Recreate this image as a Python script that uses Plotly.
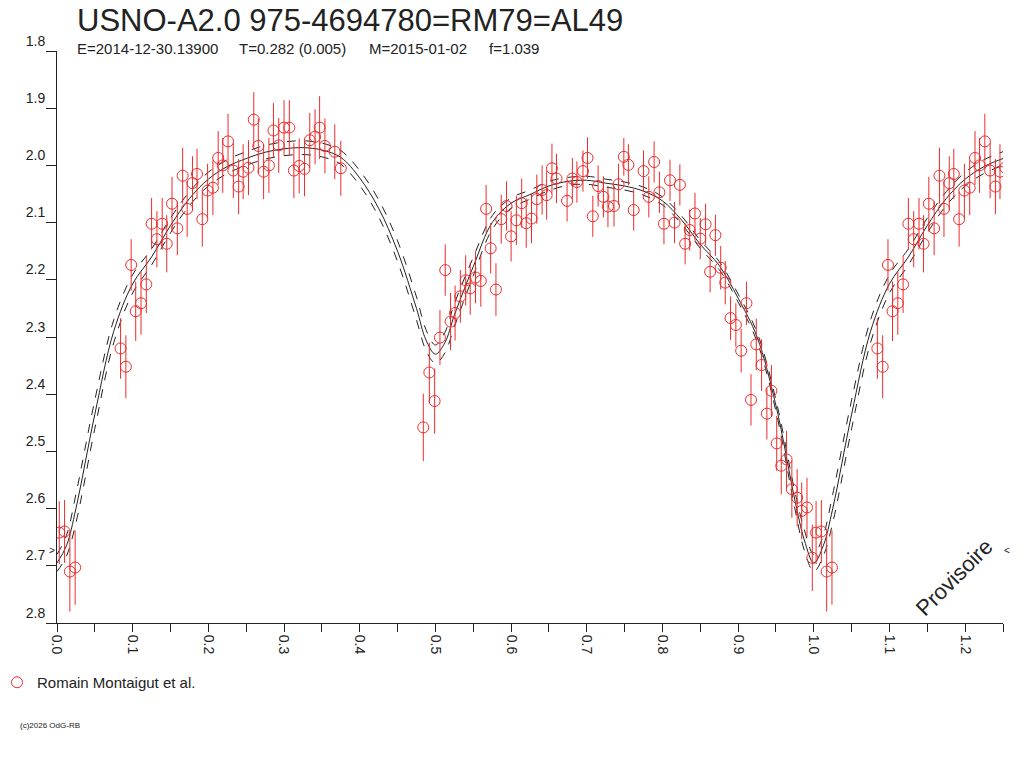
import plotly.graph_objects as go

phase = [
    0.003, 0.010, 0.017, 0.024, 0.084, 0.091, 0.098, 0.104, 0.111, 0.118,
    0.125, 0.132, 0.139, 0.145, 0.152, 0.159, 0.166, 0.172, 0.179, 0.185,
    0.192, 0.199, 0.206, 0.213, 0.219, 0.226, 0.233, 0.240, 0.246, 0.253,
    0.260, 0.266, 0.273, 0.280, 0.286, 0.293, 0.300, 0.307, 0.313, 0.320,
    0.327, 0.334, 0.341, 0.347, 0.354, 0.367, 0.375,
    0.484, 0.492, 0.499, 0.506, 0.513, 0.520, 0.526, 0.533, 0.540, 0.546,
    0.553, 0.560, 0.567, 0.573, 0.580, 0.587, 0.594, 0.600, 0.607, 0.614,
    0.620, 0.627, 0.634, 0.641, 0.647, 0.654, 0.660,
    0.674, 0.681, 0.687, 0.695, 0.701, 0.708, 0.715, 0.722, 0.728, 0.736,
    0.742, 0.749, 0.755, 0.762, 0.775, 0.782, 0.789, 0.796, 0.802, 0.810,
    0.816, 0.823, 0.830, 0.836, 0.843, 0.850, 0.857, 0.863, 0.870,
    0.877, 0.883, 0.890, 0.897, 0.904, 0.911, 0.917, 0.924, 0.931, 0.938,
    0.944, 0.951, 0.957, 0.964, 0.971, 0.978, 0.984, 0.991, 0.998,
]
mag = [
    2.642, 2.640, 2.710, 2.703, 2.320, 2.352, 2.174, 2.255, 2.241, 2.208,
    2.102, 2.129, 2.102, 2.137, 2.067, 2.110, 2.018, 2.076, 2.031, 2.015,
    2.094, 2.044, 2.039, 1.987, 2.000, 1.958, 2.009, 2.037, 2.011, 2.004,
    1.920, 1.966, 2.011, 2.000, 1.939, 1.965, 1.934, 1.934, 2.009, 2.001,
    2.006, 1.956, 1.950, 1.934, 1.966, 1.976, 2.005,
    2.458, 2.362, 2.412, 2.301, 2.183, 2.273, 2.258, 2.229, 2.201, 2.215,
    2.196, 2.202, 2.076, 2.145, 2.217, 2.094, 2.071, 2.124, 2.096, 2.066,
    2.101, 2.093, 2.059, 2.043, 2.052, 2.005, 2.023,
    2.062, 2.023, 2.029, 2.010, 1.987, 2.089, 2.036, 2.055, 2.072, 2.071,
    2.033, 1.985, 1.999, 2.078, 2.010, 2.055, 1.994, 2.047, 2.102, 2.026,
    2.100, 2.034, 2.137, 2.113, 2.084, 2.128, 2.103, 2.186, 2.122,
    2.179, 2.205, 2.267, 2.279, 2.324, 2.241, 2.410, 2.313, 2.349, 2.434,
    2.394, 2.486, 2.525, 2.514, 2.566, 2.581, 2.604, 2.598, 2.686,
]
err = [
    0.055, 0.055, 0.070, 0.065, 0.053, 0.055, 0.045, 0.052, 0.055, 0.050,
    0.045, 0.049, 0.045, 0.050, 0.047, 0.047, 0.049, 0.049, 0.047, 0.044,
    0.048, 0.047, 0.048, 0.047, 0.048, 0.048, 0.048, 0.048, 0.048, 0.048,
    0.048, 0.048, 0.048, 0.048, 0.048, 0.048, 0.048, 0.048, 0.048, 0.048,
    0.048, 0.048, 0.048, 0.055, 0.048, 0.048, 0.048,
    0.059, 0.052, 0.057, 0.048, 0.045, 0.050, 0.048, 0.046, 0.044, 0.046,
    0.045, 0.045, 0.042, 0.044, 0.046, 0.043, 0.043, 0.044, 0.043, 0.043,
    0.043, 0.043, 0.043, 0.043, 0.043, 0.043, 0.043,
    0.036, 0.036, 0.036, 0.036, 0.036, 0.036, 0.036, 0.036, 0.036, 0.036,
    0.036, 0.033, 0.036, 0.036, 0.036, 0.036, 0.036, 0.036, 0.036, 0.036,
    0.036, 0.036, 0.036, 0.036, 0.036, 0.036, 0.036, 0.036, 0.036,
    0.038, 0.038, 0.038, 0.038, 0.038, 0.038, 0.045, 0.045, 0.045, 0.045,
    0.045, 0.048, 0.050, 0.050, 0.050, 0.050, 0.050, 0.052, 0.058,
]

# fitted light curve (middle) and its envelope, read at these phases
curve_phase = [0, 0.0125, 0.025, 0.05, 0.075, 0.1, 0.125, 0.15, 0.175, 0.2,
               0.225, 0.25, 0.275, 0.3, 0.325, 0.35, 0.375, 0.4, 0.425, 0.45,
               0.475, 0.4875, 0.5, 0.5125, 0.525, 0.55, 0.575, 0.6, 0.625, 0.65,
               0.675, 0.7, 0.725, 0.75, 0.775, 0.8, 0.825, 0.85, 0.875, 0.9,
               0.925, 0.95, 0.975, 0.9875, 1.0]
curve_mid = [2.695, 2.665, 2.600, 2.435, 2.290, 2.207, 2.160, 2.105, 2.058, 2.024,
             2.002, 1.988, 1.977, 1.971, 1.969, 1.973, 1.986, 2.022, 2.075, 2.150,
             2.250, 2.305, 2.330, 2.310, 2.262, 2.177, 2.100, 2.066, 2.051, 2.036,
             2.028, 2.026, 2.031, 2.036, 2.045, 2.062, 2.095, 2.138, 2.175, 2.232,
             2.300, 2.420, 2.585, 2.655, 2.695]
curve_hi = [2.680, 2.647, 2.575, 2.410, 2.270, 2.191, 2.146, 2.092, 2.046, 2.012,
            1.990, 1.976, 1.965, 1.959, 1.957, 1.961, 1.974, 2.009, 2.060, 2.132,
            2.230, 2.287, 2.314, 2.292, 2.242, 2.161, 2.088, 2.057, 2.043, 2.028,
            2.021, 2.019, 2.024, 2.029, 2.038, 2.055, 2.088, 2.131, 2.168, 2.225,
            2.292, 2.410, 2.570, 2.637, 2.680]
curve_lo = [2.710, 2.683, 2.625, 2.460, 2.310, 2.223, 2.174, 2.118, 2.070, 2.036,
            2.014, 2.000, 1.989, 1.983, 1.981, 1.985, 1.998, 2.035, 2.090, 2.168,
            2.270, 2.323, 2.346, 2.328, 2.282, 2.193, 2.112, 2.075, 2.059, 2.044,
            2.035, 2.033, 2.038, 2.043, 2.052, 2.069, 2.102, 2.145, 2.182, 2.239,
            2.308, 2.430, 2.600, 2.673, 2.710]

title_text = "USNO-A2.0 975-4694780=RM79=AL49"
info_parts = ["E=2014-12-30.13900", "T=0.282 (0.005)", "M=2015-01-02", "f=1.039"]

# phases past 1.0 repeat the start of the cycle
wrap = [i for i, p in enumerate(phase) if p < 0.26]
x_pts = phase + [phase[i] + 1 for i in wrap]
y_pts = mag + [mag[i] for i in wrap]
e_pts = err + [err[i] for i in wrap]

cwrap = [i for i, p in enumerate(curve_phase) if 0 < p <= 0.275]
cx = curve_phase + [curve_phase[i] + 1 for i in cwrap]

RED = "#ee2b2b"
INK = "#222222"
FONT = "Liberation Sans, Arial, sans-serif"

fig = go.Figure()
for vals, dash in [(curve_hi, "dash"), (curve_lo, "dash"), (curve_mid, "solid")]:
    fig.add_trace(go.Scatter(
        x=cx, y=vals + [vals[i] for i in cwrap], mode="lines",
        line=dict(color=INK, width=1, dash=dash, shape="spline", smoothing=1),
        showlegend=False, hoverinfo="skip",
    ))

fig.add_trace(go.Scatter(
    x=x_pts, y=y_pts, mode="markers", name="Romain Montaigut et al.",
    marker=dict(symbol="circle-open", size=11, color=RED, line=dict(width=1, color=RED)),
    error_y=dict(type="data", array=e_pts, visible=True, color=RED, thickness=1, width=0),
))

# the page puts the figure 8px in from the top-left corner; plot area on screen
# runs from x=57..1003 and y=51..623
def px_x(px):
    return (px - 57) / 946

def px_y(py):
    return (623 - py) / 572

ann = [
    dict(text=title_text, x=px_x(75), y=px_y(20),
         xanchor="left", yanchor="middle", font=dict(size=31, color=INK)),
    dict(text="Provisoire", x=px_x(954), y=px_y(577), textangle=-45,
         xanchor="center", yanchor="middle", font=dict(size=22, color=INK)),
    dict(text=">", x=px_x(52), y=px_y(550), xanchor="center", yanchor="middle",
         font=dict(size=10, color=INK)),
    dict(text="<", x=px_x(1007), y=px_y(550), xanchor="center", yanchor="middle",
         font=dict(size=10, color=INK)),
    dict(text="(c)2026 OdG-RB", x=px_x(18), y=px_y(725), xanchor="left",
         yanchor="middle", font=dict(size=8, color=INK)),
]
for txt, sx in zip(info_parts, [75, 237, 367, 487]):
    ann.append(dict(text=txt, x=px_x(sx), y=px_y(48), xanchor="left",
                    yanchor="middle", font=dict(size=15, color=INK)))
for a in ann:
    a.update(xref="paper", yref="paper", showarrow=False)

fig.update_layout(
    width=1016, height=760,
    margin=dict(l=49, r=21, t=43, b=145, autoexpand=False),
    paper_bgcolor="white", plot_bgcolor="white",
    font=dict(family=FONT, color=INK, size=14),
    annotations=ann,
    showlegend=True,
    legend=dict(xref="paper", yref="container", x=px_x(-3), y=1 - 658 / 760,
                xanchor="left", yanchor="top", bgcolor="rgba(0,0,0,0)",
                font=dict(size=15, color=INK)),
)
fig.update_xaxes(
    range=[0, 1.25], showgrid=False, zeroline=False,
    showline=True, linecolor=INK, linewidth=1,
    ticks="outside", ticklen=8, tickcolor=INK, tickwidth=1,
    tick0=0, dtick=0.1, tickformat=".1f", tickangle=90,
    minor=dict(dtick=0.05, ticks="outside", ticklen=8, tickcolor=INK),
    tickfont=dict(size=14, color=INK),
)
fig.update_yaxes(
    range=[2.8, 1.8], showgrid=False, zeroline=False,
    showline=True, linecolor=INK, linewidth=1,
    ticks="outside", ticklen=10, tickcolor=INK, tickwidth=1,
    tick0=1.8, dtick=0.1, tickformat=".1f", ticklabelposition="outside top",
    ticklabelstandoff=8,
    tickfont=dict(size=14, color=INK),
)

fig.write_html("out.html")
